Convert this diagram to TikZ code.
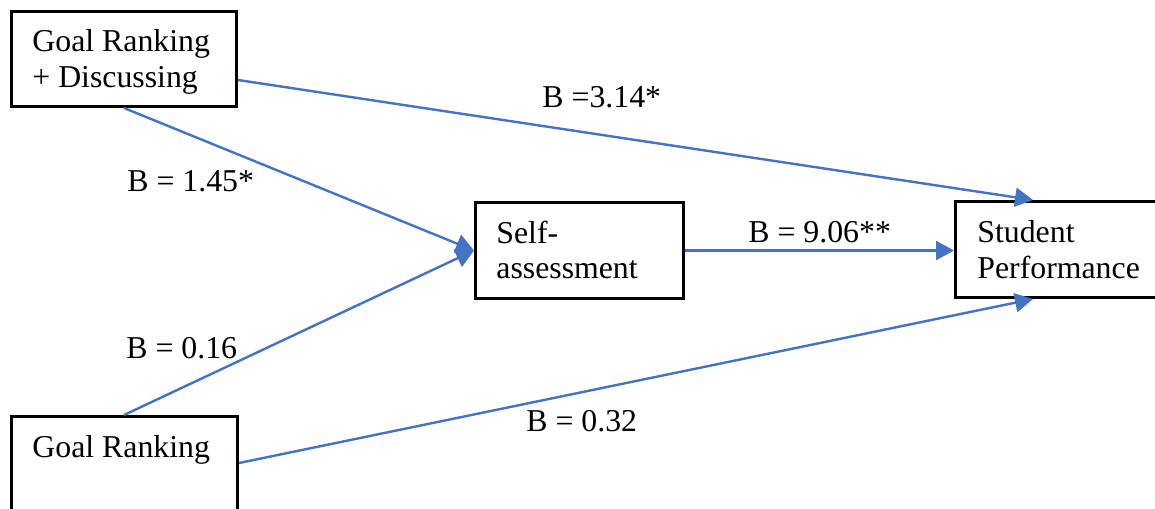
\documentclass[tikz,border=0pt]{standalone}
\usepackage{fontspec}
\setmainfont{Liberation Serif}
\usetikzlibrary{arrows.meta,calc}
\definecolor{linkblue}{RGB}{68,114,196}
\begin{document}
\begin{tikzpicture}[x=0.5pt,y=-0.5pt,
  box/.style={draw=black,line width=1.5pt,rectangle,inner sep=0pt,anchor=north west,fill=white},
  txt/.style={anchor=base west,inner sep=0pt,align=left,font=\fontsize{15.9pt}{18pt}\selectfont},
  conn/.style={draw=linkblue,line width=1.2pt,-{Triangle[length=9pt,width=9.5pt]}}]
\clip (0,0) rectangle (1155,508);
\fill[white] (0,0) rectangle (1155,508);
\node[box,minimum width=112.5pt,minimum height=47.5pt] (b1) at (10,10) {};
\node[box,minimum width=104pt,minimum height=48pt] (b2) at (474,201) {};
\node[box,minimum width=108pt,minimum height=48pt] (b3) at (954,200) {};
\node[box,minimum width=113pt,minimum height=57.5pt] (b4) at (10,415) {};
\node[txt] (t1a) at (32,52) {Goal Ranking};
\node[txt] (t1b) at (32,88) {+ Discussing};
\node[txt] (t2a) at (496,243) {Self-};
\node[txt] (t2b) at (496,278) {assessment};
\node[txt] (t3a) at (977,242) {Student};
\node[txt] (t3b) at (977,278) {Performance};
\node[txt] (t4) at (32,457) {Goal Ranking};
\draw[conn] ([yshift=-35pt]b1.north east) -- ([xshift=39.5pt]b3.north west);
\draw[conn] ([xshift=57pt]b1.south west) -- (b2.west);
\draw[conn] ([xshift=57pt]b4.north west) -- (b2.west);
\draw[conn] (b2.east) -- (b2.east -| b3.west);
\draw[conn] ([yshift=-24pt]b4.north east) -- ([xshift=39.5pt]b3.south west);
\node[txt] (l1) at (542,108) {B =3.14*};
\node[txt] (l2) at (127,191) {B = 1.45*};
\node[txt] (l3) at (748,242) {B = 9.06**};
\node[txt] (l4) at (126,358) {B = 0.16};
\node[txt] (l5) at (526,431) {B = 0.32};
\end{tikzpicture}
\end{document}
